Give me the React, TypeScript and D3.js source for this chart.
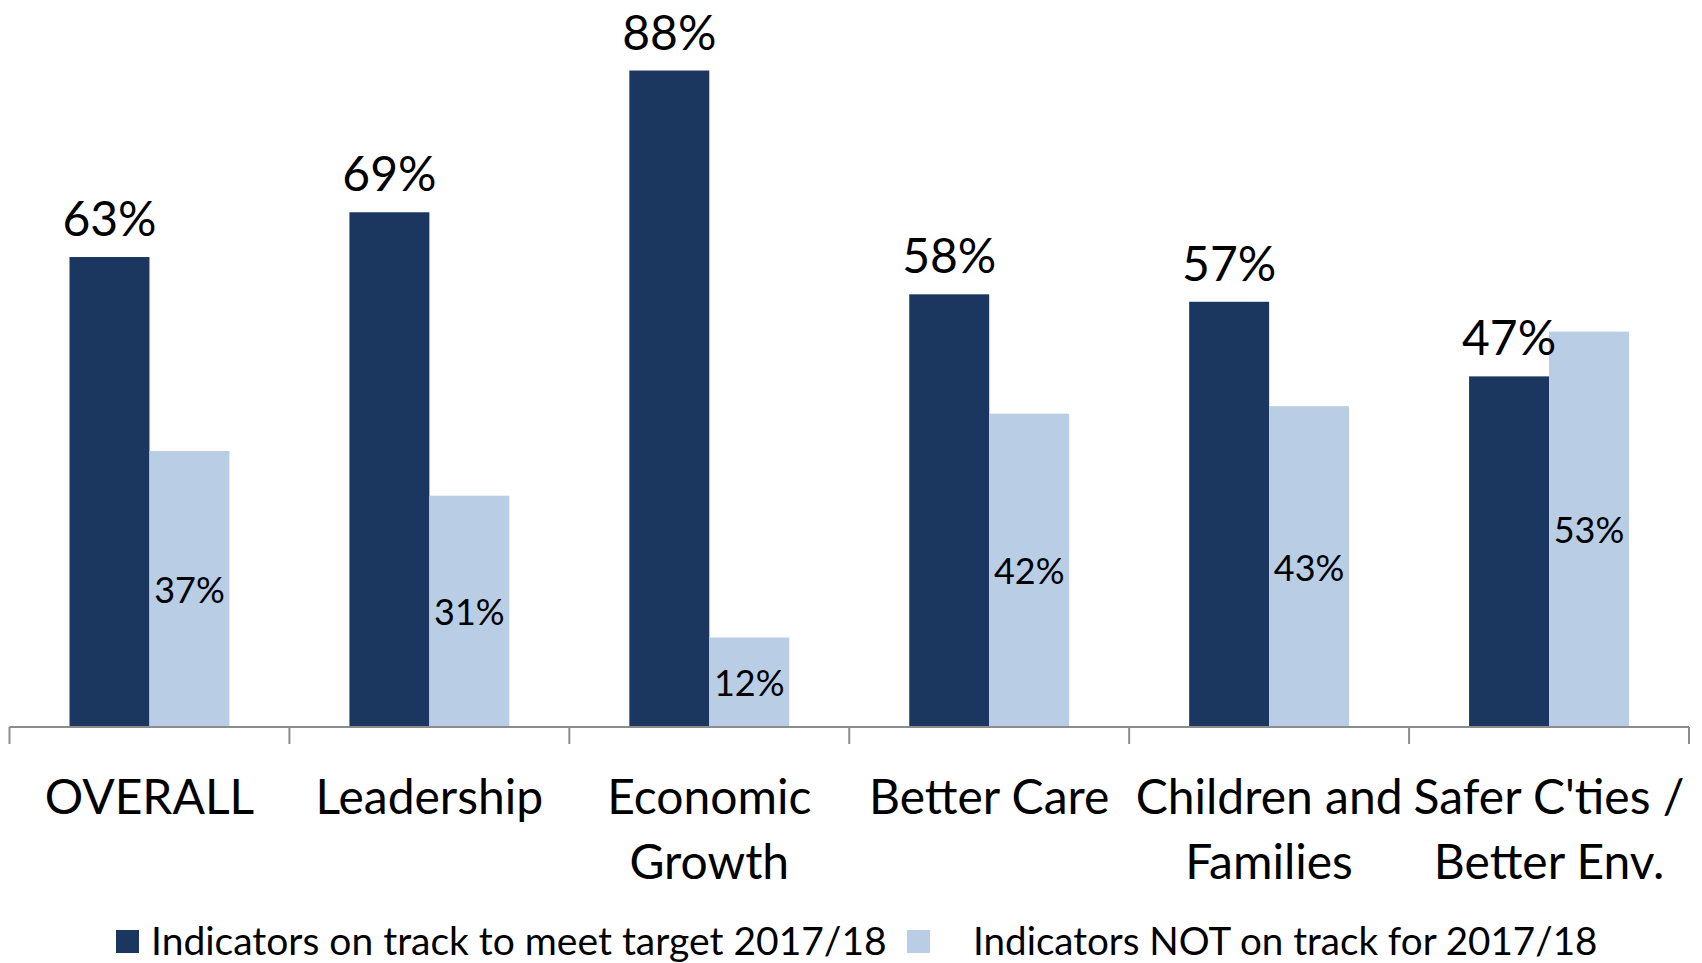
import { useMemo } from "react";
import * as d3 from "d3";

const categories = [
  "OVERALL",
  "Leadership",
  "Economic\nGrowth",
  "Better Care",
  "Children and\nFamilies",
  "Safer C'ties /\nBetter Env.",
];
const onTrack = [63, 69, 88, 58, 57, 47];
const notOnTrack = [37, 31, 12, 42, 43, 53];
const seriesNames = [
  "Indicators on track to meet target 2017/18",
  "Indicators NOT on track for 2017/18",
];
const colors = ["#1B375F", "#B9CDE5"];

const width = 1702;
const height = 963;
const font = "Lato, 'Open Sans', sans-serif";

export default function App() {
  const axisY = 727;
  const left = 9.5;
  const right = 1689;

  const x0 = useMemo(
    () => d3.scaleBand().domain(categories).range([left, right]).padding(0),
    [],
  );
  const x1 = useMemo(
    () =>
      d3
        .scaleBand()
        .domain(seriesNames)
        .range([60, x0.bandwidth() - 60])
        .padding(0),
    [x0],
  );
  const y = useMemo(
    () => d3.scaleLinear().domain([0, 100]).range([axisY, axisY - 746]),
    [],
  );

  const series = [onTrack, notOnTrack];
  const ticks = [...categories.map((c) => x0(c) ?? 0), right];

  return (
    <svg
      width={width}
      height={height}
      style={{ position: "absolute", left: 0, top: 0, background: "#fff" }}
      fontFamily={font}
    >
      {/* bars */}
      {series.map((values, si) => (
        <g key={si}>
          {values.map((v, i) => (
            <rect
              key={i}
              x={(x0(categories[i]) ?? 0) + (x1(seriesNames[si]) ?? 0)}
              y={y(v)}
              width={x1.bandwidth()}
              height={axisY - y(v)}
              fill={colors[si]}
            />
          ))}
        </g>
      ))}

      {/* axis */}
      <line x1={left} x2={right} y1={axisY} y2={axisY} stroke="#8C8C8C" strokeWidth={2} />
      {ticks.map((t, i) => (
        <line key={i} x1={t} x2={t} y1={axisY} y2={axisY + 17} stroke="#8C8C8C" strokeWidth={2} />
      ))}

      {/* labels: on track, outside end */}
      {onTrack.map((v, i) => (
        <text
          key={i}
          x={(x0(categories[i]) ?? 0) + (x1(seriesNames[0]) ?? 0) + x1.bandwidth() / 2}
          y={y(v) - 21}
          textAnchor="middle"
          fontSize={48}
          fill="#000"
        >
          {v}%
        </text>
      ))}
      {/* labels: not on track, centered */}
      {notOnTrack.map((v, i) => (
        <text
          key={i}
          x={(x0(categories[i]) ?? 0) + (x1(seriesNames[1]) ?? 0) + x1.bandwidth() / 2}
          y={(y(v) + axisY) / 2}
          textAnchor="middle"
          dominantBaseline="central"
          fontSize={36}
          fill="#000"
        >
          {v}%
        </text>
      ))}

      {/* category labels */}
      {categories.map((c) => (
        <text
          key={c}
          x={(x0(c) ?? 0) + x0.bandwidth() / 2}
          y={814}
          textAnchor="middle"
          fontSize={48}
          fill="#000"
        >
          {c.split("\n").map((line, j) => (
            <tspan key={j} x={(x0(c) ?? 0) + x0.bandwidth() / 2} dy={j === 0 ? 0 : 65}>
              {line}
            </tspan>
          ))}
        </text>
      ))}

      {/* legend */}
      <g>
        <rect x={116} y={930} width={23} height={23} fill={colors[0]} />
        <text x={151} y={955} fontSize={39} fill="#000">
          {seriesNames[0]}
        </text>
        <rect x={907} y={930} width={23} height={23} fill={colors[1]} />
        <text x={973} y={955} fontSize={38.6} fill="#000">
          {seriesNames[1]}
        </text>
      </g>
    </svg>
  );
}
